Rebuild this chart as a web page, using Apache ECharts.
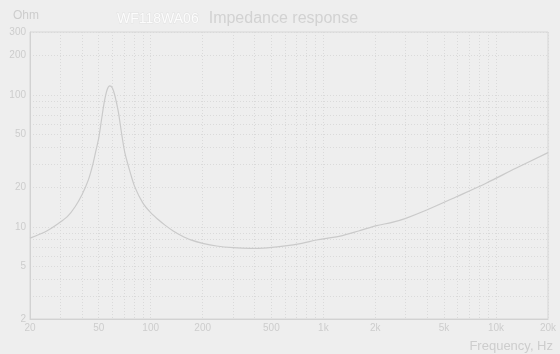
<!DOCTYPE html>
<html>
<head>
<meta charset="utf-8">
<script src="https://cdn.jsdelivr.net/npm/echarts@6/dist/echarts.min.js"></script>
<style>
html,body{margin:0;padding:0;background:#eeeeee;}
#c{width:560px;height:354px;}
</style>
</head>
<body>
<div id="c"></div>
<script>
var freqHz = [20, 25, 29.2, 33, 36.5, 40, 43.5, 46, 48, 50, 52, 54, 56, 58, 60, 62, 64.9, 68, 71, 76, 81, 90, 100, 110, 121, 135, 150, 169, 200, 241, 300, 375, 450, 586, 750, 914, 1250, 1600, 2033, 2500, 3000, 3968, 5900, 8760, 13020, 20000];
var impedanceOhm = [8.2, 9.3, 10.6, 12.0, 14.2, 17.5, 22.6, 29, 37, 47, 66, 90, 110, 117, 113, 99, 75, 50, 36, 26, 20, 15.2, 12.8, 11.4, 10.3, 9.3, 8.6, 8.0, 7.5, 7.15, 6.95, 6.87, 6.9, 7.15, 7.5, 7.94, 8.5, 9.3, 10.2, 10.8, 11.6, 13.4, 16.9, 21.4, 27.8, 36.5];
var xTickLabels = [20, 50, 100, 200, 500, 1000, 2000, 5000, 10000, 20000];
var xGridValues = [20,30,40,50,60,70,80,90,100,200,300,400,500,600,700,800,900,1000,2000,3000,4000,5000,6000,7000,8000,9000,10000,20000];
var yTickLabels = [2, 5, 10, 20, 50, 100, 200, 300];
var yGridValues = [2,3,4,5,6,7,8,9,10,20,30,40,50,60,70,80,90,100,200,300];
var titleModel = 'WF118WA06';
var titleText = 'Impedance response';
var yUnit = 'Ohm';
var xName = 'Frequency, Hz';

var txt = '#cdcdcd';
var font = "'Liberation Sans', Arial, sans-serif";
var chart = echarts.init(document.getElementById('c'));
chart.setOption({
  backgroundColor: '#eeeeee',
  animation: false,
  title: [
    {
      left: 112, top: 5,
      text: '{a|' + titleModel + '}  {b|' + titleText + '}',
      textStyle: {
        fontWeight: 'normal',
        rich: {
          a: {color: '#fcfcfc', fontSize: 14, fontWeight: 'normal', fontFamily: font, textBorderColor: '#e2e2e2', textBorderWidth: 1},
          b: {color: '#d2d2d2', fontSize: 16, fontWeight: 'normal', fontFamily: font}
        }
      }
    },
    {left: 8, top: 5, text: yUnit, textStyle: {color: txt, fontSize: 12, fontWeight: 'normal', fontFamily: font}},
    {right: 2, top: 335, text: xName, textStyle: {color: txt, fontSize: 13, fontWeight: 'normal', fontFamily: font}}
  ],
  grid: {left: 30, right: 12, top: 32, bottom: 35, show: true, borderColor: '#d6d6d6', borderWidth: 1, backgroundColor: 'transparent'},
  xAxis: {
    type: 'log', logBase: 10, min: 20, max: 20000,
    axisLine: {show: true, lineStyle: {color: '#d2d2d2', width: 1}},
    axisTick: {show: false, customValues: xGridValues},
    splitLine: {show: true, lineStyle: {color: '#dadada', type: [1, 2], width: 1}},
    minorTick: {show: false}, minorSplitLine: {show: false},
    axisLabel: {
      customValues: xTickLabels, color: txt, fontSize: 10, fontFamily: font, margin: 4,
      formatter: function (v) { return v >= 1000 ? (v / 1000) + 'k' : String(v); }
    }
  },
  yAxis: {
    type: 'log', logBase: 10, min: 2, max: 300,
    axisLine: {show: true, lineStyle: {color: '#d2d2d2', width: 1}},
    axisTick: {show: false, customValues: yGridValues},
    splitLine: {show: true, lineStyle: {color: '#dadada', type: [1, 2], width: 1}},
    minorTick: {show: false}, minorSplitLine: {show: false},
    axisLabel: {customValues: yTickLabels, color: txt, fontSize: 10, fontFamily: font, margin: 4,
      formatter: function (v) { return String(v); }}
  },
  series: [{
    type: 'line',
    data: freqHz.map(function (f, i) { return [f, impedanceOhm[i]]; }),
    showSymbol: false,
    smooth: 0.3,
    lineStyle: {color: '#cacaca', width: 1.2}
  }]
});
</script>
</body>
</html>
